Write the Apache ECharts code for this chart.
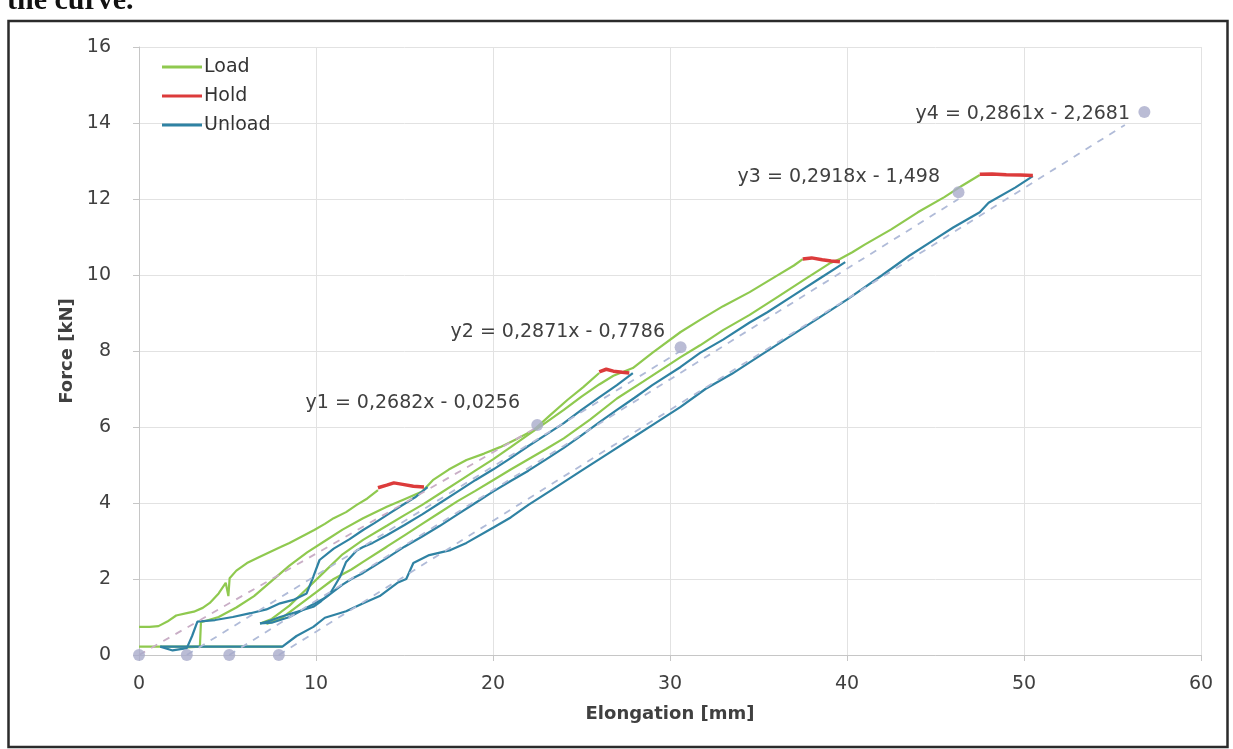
<!DOCTYPE html>
<html><head><meta charset="utf-8">
<script src="https://cdn.jsdelivr.net/npm/echarts@6/dist/echarts.min.js"></script>
<style>html,body{margin:0;padding:0;background:#fff;}#c{width:1233px;height:749px;}</style>
</head><body><div id="c"></div>
<script>
// ---------- data ----------
const xTicks = [0, 10, 20, 30, 40, 50, 60];
const yTicks = [0, 2, 4, 6, 8, 10, 12, 14, 16];
const legendNames = ['Load', 'Hold', 'Unload'];

const loadBase = [[0,0.22],[3.0,0.22],[8.1,0.22]];
const load1 = [[0,0.74],[0.6,0.74],[1.1,0.76],[1.6,0.88],[2.1,1.04],[2.7,1.1],[3.1,1.14],[3.6,1.24],[4.0,1.37],[4.5,1.62],[4.9,1.9],[5.05,1.55],[5.12,2.02],[5.5,2.22],[6.1,2.42],[6.8,2.58],[7.4,2.71],[8.0,2.84],[8.5,2.95],[9.2,3.12],[9.9,3.29],[10.5,3.45],[11.0,3.6],[11.7,3.76],[12.3,3.95],[12.9,4.12],[13.5,4.34]];
const load2 = [[2.7,0.2],[3.44,0.22],[3.5,0.86],[4.5,1.0],[5.5,1.25],[6.5,1.55],[7.5,1.95],[8.5,2.35],[9.5,2.7],[10.5,3.0],[11.5,3.3],[12.66,3.6],[14.0,3.9],[15.0,4.1],[16.0,4.3],[16.6,4.6],[17.5,4.88],[18.5,5.13],[19.5,5.3],[20.4,5.47],[21.4,5.7],[22.3,5.92],[23.2,6.3],[24.2,6.71],[25.1,7.05],[26.0,7.42]];
const load3 = [[6.84,0.83],[7.5,0.95],[8.5,1.3],[9.5,1.75],[10.5,2.2],[11.5,2.65],[12.66,3.03],[14,3.4],[15,3.68],[16,3.95],[17,4.25],[18,4.55],[19,4.85],[20,5.15],[21,5.47],[22,5.8],[23,6.12],[24,6.45],[25,6.8],[26,7.12],[26.8,7.35],[27.9,7.55],[29,7.95],[30.6,8.5],[31.7,8.82],[33,9.18],[34.5,9.55],[36,9.97],[37,10.25],[37.5,10.42]];
const load4 = [[7.2,0.82],[8,0.95],[9,1.3],[10,1.65],[11,2.0],[12,2.25],[12.66,2.45],[14,2.85],[15,3.15],[16,3.45],[17,3.75],[18,4.05],[19,4.32],[20,4.6],[21,4.88],[22,5.15],[23,5.42],[24,5.7],[25.5,6.2],[27,6.75],[28.5,7.2],[30.6,7.84],[31.7,8.15],[33,8.55],[34.5,8.95],[36,9.4],[37.5,9.85],[39,10.3],[39.6,10.42],[40.3,10.6],[41,10.8],[42.5,11.2],[44,11.65],[45.5,12.05],[46.5,12.35],[47.5,12.63]];

const hold1 = [[13.5,4.4],[14.0,4.47],[14.4,4.53],[14.9,4.49],[15.5,4.44],[16.1,4.42]];
const hold2 = [[26.0,7.45],[26.4,7.52],[26.8,7.47],[27.3,7.44],[27.7,7.42]];
const hold3 = [[37.5,10.42],[38.0,10.45],[38.6,10.4],[39.1,10.37],[39.6,10.35]];
const hold4 = [[47.5,12.65],[48.2,12.66],[49.0,12.64],[49.8,12.63],[50.5,12.62]];

const unload1 = [[16.3,4.42],[15.6,4.15],[14.8,3.92],[14.0,3.68],[13.3,3.47],[12.66,3.29],[11.9,3.05],[11.0,2.8],[10.2,2.5],[9.85,2.06],[9.47,1.62],[8.72,1.45],[7.97,1.36],[7.2,1.2],[6.3,1.1],[5.3,1.0],[4.3,0.92],[3.3,0.88],[3.0,0.5],[2.7,0.18],[1.9,0.12],[1.2,0.22]];
const unload2 = [[27.9,7.42],[27.0,7.1],[26.0,6.78],[25.0,6.45],[24.0,6.1],[23.0,5.8],[22.0,5.5],[21.0,5.18],[20.0,4.88],[19.0,4.6],[18.0,4.3],[17.0,4.0],[16.0,3.7],[15.0,3.42],[14.0,3.15],[13.2,2.95],[12.66,2.84],[12.3,2.75],[11.7,2.45],[11.36,2.06],[10.8,1.62],[10.3,1.42],[9.85,1.27],[8.8,1.12],[7.97,1.0],[7.4,0.9],[6.84,0.83]];
const unload3 = [[39.9,10.34],[38.5,9.92],[37,9.47],[35.5,9.02],[34.5,8.75],[33,8.3],[31.7,7.95],[30.6,7.58],[29,7.1],[28,6.77],[27,6.45],[26,6.12],[25,5.78],[24,5.45],[23,5.15],[22,4.85],[21,4.58],[20,4.3],[19,4.0],[18,3.7],[17,3.4],[16,3.12],[15,2.85],[14,2.55],[13.3,2.35],[12.66,2.16],[12.0,2.0],[11.5,1.85],[10.5,1.5],[9.5,1.25],[8.5,1.0],[7.5,0.85],[6.84,0.83]];
const unload4 = [[50.5,12.6],[49.5,12.3],[48,11.9],[47.5,11.65],[46,11.25],[45,10.95],[43.5,10.5],[42,10.0],[40,9.35],[38.5,8.9],[37,8.45],[35,7.85],[33.5,7.4],[32,7.0],[30.6,6.53],[29,6.05],[28,5.75],[26.5,5.3],[25,4.85],[23.5,4.4],[22,3.95],[21,3.62],[20,3.35],[18.5,2.95],[17.6,2.76],[16.4,2.63],[15.5,2.42],[15.1,2.0],[14.6,1.9],[13.6,1.55],[12.7,1.37],[11.7,1.15],[10.5,0.98],[9.85,0.74],[8.9,0.5],[8.1,0.22],[5.0,0.22],[1.2,0.22]];

const fitPoints = [[0,0],[2.7,0],[5.1,0],[7.9,0],[22.5,6.05],[30.6,8.1],[46.3,12.18],[56.8,14.29]];
const trend1 = [[0,0],[22.5,6.0]];
const trend2 = [[2.7,0],[30.6,8.0]];
const trend3 = [[5.1,0],[46.3,12.0]];
const trend4 = [[7.9,0],[55.7,13.95]];
const trendLabels = ['y1 = 0,2682x - 0,0256','y2 = 0,2871x - 0,7786','y3 = 0,2918x - 1,498','y4 = 0,2861x - 2,2681'];

// ---------- styles ----------
const GREEN = '#8fc94f', RED = '#dc3b3b', TEAL = '#2f82a3';
const FONT = 'DejaVu Sans';
const TXT = '#404040';

function line(name, data, color, z, width) {
  return { name, type: 'line', data, symbol: 'none', z: z,
    lineStyle: { color, width: width || 2.2 }, itemStyle: { color }, animation: false, silent: true };
}
function trend(data, color) {
  return { name: 'trend', type: 'line', data, symbol: 'none', z: 6,
    lineStyle: { color, width: 1.8, type: [7, 7] }, itemStyle: { color }, animation: false, silent: true };
}

const series = [
  line('Load', loadBase, GREEN, 2),
  line('Load', load1, GREEN, 2),
  line('Load', load2, GREEN, 2),
  line('Load', load3, GREEN, 2),
  line('Load', load4, GREEN, 2),
  line('Unload', unload1, TEAL, 3),
  line('Unload', unload2, TEAL, 3),
  line('Unload', unload3, TEAL, 3),
  line('Unload', unload4, TEAL, 3),
  line('Hold', hold1, RED, 4, 3.5),
  line('Hold', hold2, RED, 4, 3.5),
  line('Hold', hold3, RED, 4, 3.5),
  line('Hold', hold4, RED, 4, 3.5),
  trend(trend1, '#c9aec6'),
  trend(trend2, '#b0bbd8'),
  trend(trend3, '#b0bbd8'),
  trend(trend4, '#b0bbd8'),
  { name: 'points', type: 'scatter', data: fitPoints, symbolSize: 12, z: 7,
    itemStyle: { color: '#a9abcb' }, animation: false, silent: true }
];

const labelPos = [[520,403],[665,332],[940,177],[1130,114]];

const chart = echarts.init(document.getElementById('c'), null, { renderer: 'canvas' });
chart.setOption({
  backgroundColor: '#fff',
  animation: false,
  grid: { left: 139, right: 32, top: 47, bottom: 94, containLabel: false },
  legend: {
    data: legendNames.map(n => ({ name: n, icon: 'rect' })),
    orient: 'vertical', left: 157, top: 52, itemWidth: 40, itemHeight: 3, itemGap: 9,
    textStyle: { fontFamily: FONT, fontSize: 19, color: '#333', lineHeight: 20, padding: [0,0,0,-3] },
    selectedMode: false
  },
  xAxis: {
    type: 'value', min: 0, max: 60, interval: 10,
    name: 'Elongation [mm]', nameLocation: 'middle', nameGap: 50,
    nameTextStyle: { fontFamily: FONT, fontSize: 18, fontWeight: 'bold', color: TXT },
    axisLine: { show: true, onZero: false, lineStyle: { color: '#c6c6c6', width: 1 } },
    axisTick: { show: true, length: 6, lineStyle: { color: '#c6c6c6' } },
    axisLabel: { fontFamily: FONT, fontSize: 19, color: TXT, margin: 20,
      formatter: v => xTicks.includes(v) ? String(v) : '' },
    splitLine: { show: true, lineStyle: { color: '#e2e2e2', width: 1 } }
  },
  yAxis: {
    type: 'value', min: 0, max: 16, interval: 2,
    name: 'Force [kN]', nameLocation: 'middle', nameGap: 62, nameRotate: 90,
    nameTextStyle: { fontFamily: FONT, fontSize: 18, fontWeight: 'bold', color: TXT },
    axisLine: { show: true, lineStyle: { color: '#c6c6c6', width: 1 } },
    axisTick: { show: true, length: 6, lineStyle: { color: '#c6c6c6' } },
    axisLabel: { fontFamily: FONT, fontSize: 19, color: TXT, margin: 28,
      formatter: v => yTicks.includes(v) ? String(v) : '' },
    splitLine: { show: true, lineStyle: { color: '#e2e2e2', width: 1 } }
  },
  series: series,
  graphic: [
    { type: 'rect', silent: true, z: 100,
      shape: { x: 8.5, y: 21, width: 1219, height: 726 },
      style: { fill: 'none', stroke: '#2b2b2b', lineWidth: 2.5 } },
    { type: 'text', silent: true, z: 100, left: 7, top: -14,
      style: { text: 'the curve.', font: 'bold 30px "Liberation Serif"', fill: '#111' } }
  ].concat(trendLabels.map((t, i) => ({
    type: 'text', silent: true, z: 100, x: labelPos[i][0], y: labelPos[i][1],
    style: { text: t, font: '19px "' + FONT + '"', fill: TXT, align: 'right', verticalAlign: 'middle' }
  })))
});
</script></body></html>
